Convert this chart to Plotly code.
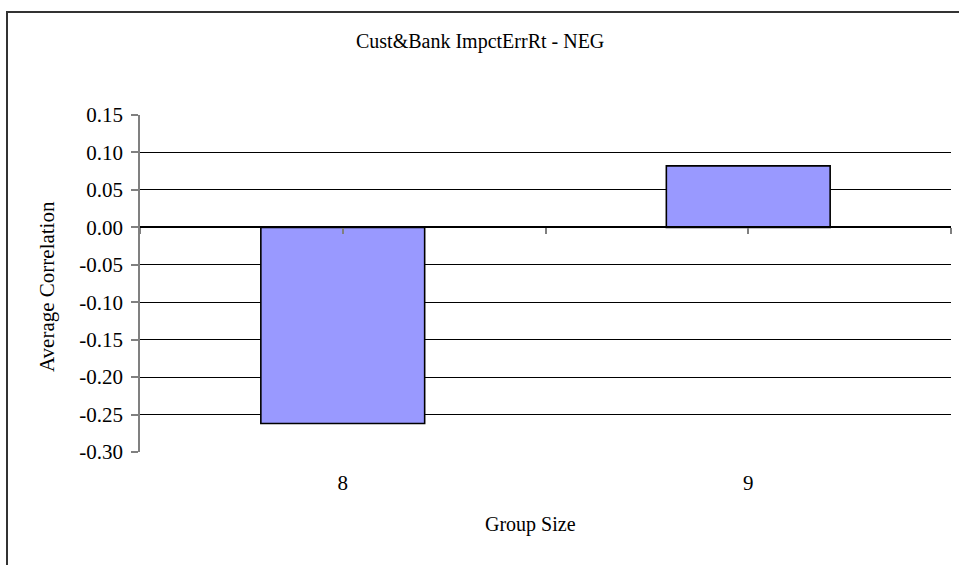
import plotly.graph_objects as go

# Chart data
group_sizes = [8, 9]
avg_correlation = [-0.262, 0.082]
y_ticks = [0.15, 0.10, 0.05, 0.00, -0.05, -0.10, -0.15, -0.20, -0.25, -0.30]
y_tick_labels = ["0.15", "0.10", "0.05", "0.00", "-0.05", "-0.10", "-0.15", "-0.20", "-0.25", "-0.30"]
x_tick_labels = ["8", "9"]

W, H = 959, 565
L, R, T, B = 140, 8, 115, 113
FONT = "Liberation Serif, Times New Roman, serif"
TICK_SIZE = 21
TEXT_SIZE = 20
y_min, y_max = -0.30, 0.15

fig = go.Figure()
fig.add_trace(go.Bar(
    x=group_sizes,
    y=avg_correlation,
    marker=dict(color="#9999FF", line=dict(color="#000000", width=1.6)),
    width=0.404,
    xaxis="x",
    yaxis="y",
    showlegend=False,
))
# invisible trace to carry the zero-line axis with its tick marks
fig.add_trace(go.Scatter(x=[group_sizes[0]], y=[0], xaxis="x2", yaxis="y",
                         mode="markers", marker=dict(opacity=0), showlegend=False,
                         hoverinfo="skip"))

zero_pos = (0 - y_min) / (y_max - y_min)

fig.update_layout(
    width=W, height=H,
    margin=dict(l=L, r=R, t=T, b=B),
    paper_bgcolor="white",
    plot_bgcolor="white",
    font=dict(family=FONT, size=TEXT_SIZE, color="#000000"),
    xaxis=dict(
        range=[7.5, 9.5],
        tickvals=group_sizes,
        ticktext=x_tick_labels,
        ticks="outside", ticklen=12, tickcolor="rgba(0,0,0,0)",
        showgrid=False, zeroline=False, showline=False,
        tickfont=dict(family=FONT, size=TICK_SIZE),
    ),
    xaxis2=dict(
        range=[7.5, 9.5],
        overlaying="x",
        anchor="free",
        position=zero_pos,
        side="bottom",
        tickvals=[7.5, 8, 8.5, 9, 9.5],
        showticklabels=False,
        ticks="outside", ticklen=6, tickcolor="#808080", tickwidth=1.5,
        showline=True, linecolor="#000000", linewidth=1.5,
        showgrid=False, zeroline=False,
    ),
    yaxis=dict(
        range=[y_min, y_max],
        tickvals=y_ticks,
        ticktext=y_tick_labels,
        ticks="outside", ticklen=7, tickcolor="#808080", tickwidth=1.5,
        ticklabelstandoff=4,
        showline=True, linecolor="#808080", linewidth=1.5,
        showgrid=True, gridcolor="#000000", gridwidth=1,
        zeroline=False,
        tickfont=dict(family=FONT, size=TICK_SIZE),
    ),
    shapes=[
        dict(type="rect", xref="paper", yref="paper",
             x0=(7 - L) / (W - L - R), x1=(975 - L) / (W - L - R),
             y0=(H - B - 585) / (H - T - B), y1=(H - B - 12) / (H - T - B),
             line=dict(color="#333333", width=2), fillcolor="rgba(0,0,0,0)",
             layer="below"),
    ],
    annotations=[
        dict(text="Cust&amp;Bank ImpctErrRt - NEG", xref="paper", yref="paper",
             x=(480 - L) / (W - L - R), y=(H - B - 42) / (H - T - B),
             xanchor="center", yanchor="middle", showarrow=False,
             font=dict(family=FONT, size=TEXT_SIZE)),
        dict(text="Average Correlation", xref="paper", yref="paper",
             x=(47 - L) / (W - L - R), y=(H - B - 287) / (H - T - B),
             xanchor="center", yanchor="middle", showarrow=False, textangle=-90,
             font=dict(family=FONT, size=21)),
        dict(text="Group Size", xref="paper", yref="paper",
             x=(530 - L) / (W - L - R), y=(H - B - 524) / (H - T - B),
             xanchor="center", yanchor="middle", showarrow=False,
             font=dict(family=FONT, size=TEXT_SIZE)),
    ],
)

fig.write_html("out.html")
